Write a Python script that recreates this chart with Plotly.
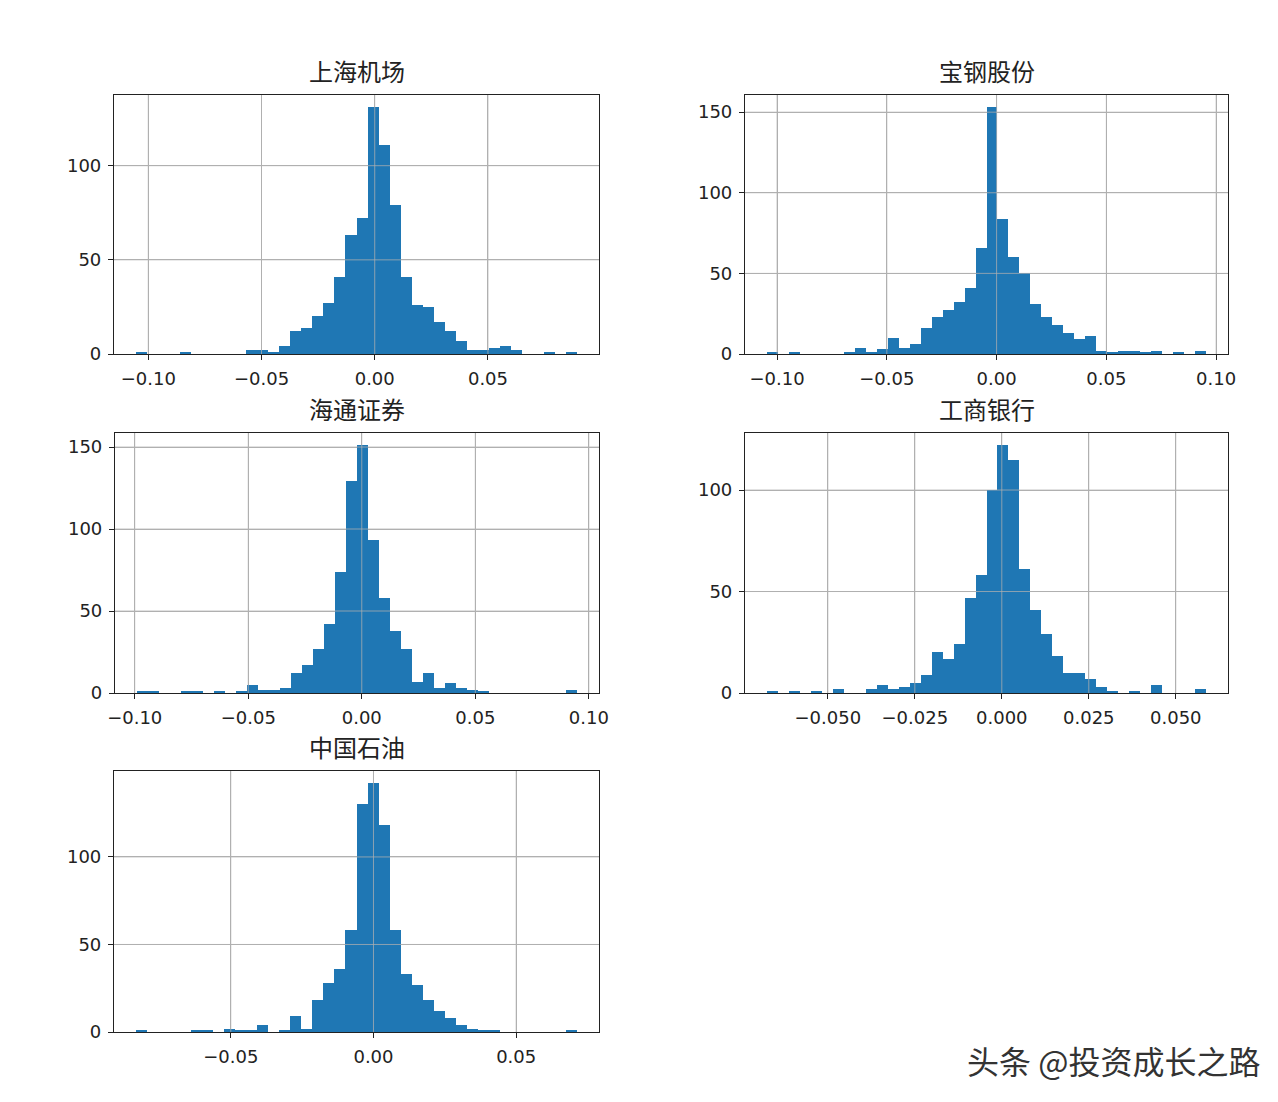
import plotly.graph_objects as go

# ---------------- data ----------------
names = ["上海机场", "宝钢股份", "海通证券", "工商银行", "中国石油"]

# histogram range (min, max of the returns) for each stock, 40 bins each
data_min = [-0.1054, -0.1046, -0.0990, -0.0675, -0.0832]
data_max = [0.0893, 0.0954, 0.0948, 0.0587, 0.0713]

counts_shjc = [1, 0, 0, 0, 1, 0, 0, 0, 0, 0, 2, 2, 1, 4, 12, 14, 20, 27, 41, 63,
               72, 131, 111, 79, 41, 26, 25, 17, 12, 7, 2, 2, 3, 4, 2, 0, 0, 1, 0, 1]
counts_bggf = [1, 0, 1, 0, 0, 0, 0, 1, 4, 1, 3, 10, 4, 6, 16, 23, 27, 32, 41, 66,
               153, 84, 60, 50, 31, 23, 18, 13, 9, 11, 2, 1, 2, 2, 1, 2, 0, 1, 0, 2]
counts_htzq = [1, 1, 0, 0, 1, 1, 0, 1, 0, 1, 5, 2, 2, 3, 12, 17, 27, 42, 74, 129,
               151, 93, 58, 38, 27, 7, 12, 3, 6, 3, 2, 1, 0, 0, 0, 0, 0, 0, 0, 2]
counts_gsyh = [1, 0, 1, 0, 1, 0, 2, 0, 0, 2, 4, 2, 3, 5, 9, 20, 17, 24, 47, 58,
               100, 122, 115, 61, 41, 29, 18, 10, 10, 7, 3, 1, 0, 1, 0, 4, 0, 0, 0, 2]
counts_zgsy = [1, 0, 0, 0, 0, 1, 1, 0, 2, 1, 1, 4, 0, 1, 9, 2, 18, 28, 36, 58,
               130, 142, 118, 58, 33, 27, 18, 12, 8, 4, 2, 1, 1, 0, 0, 0, 0, 0, 0, 1]
all_counts = [counts_shjc, counts_bggf, counts_htzq, counts_gsyh, counts_zgsy]

xtick_vals = [
    [-0.10, -0.05, 0.00, 0.05],
    [-0.10, -0.05, 0.00, 0.05, 0.10],
    [-0.10, -0.05, 0.00, 0.05, 0.10],
    [-0.050, -0.025, 0.000, 0.025, 0.050],
    [-0.05, 0.00, 0.05],
]
xtick_text = [
    ["−0.10", "−0.05", "0.00", "0.05"],
    ["−0.10", "−0.05", "0.00", "0.05", "0.10"],
    ["−0.10", "−0.05", "0.00", "0.05", "0.10"],
    ["−0.050", "−0.025", "0.000", "0.025", "0.050"],
    ["−0.05", "0.00", "0.05"],
]
ytick_vals = [
    [0, 50, 100],
    [0, 50, 100, 150],
    [0, 50, 100, 150],
    [0, 50, 100],
    [0, 50, 100],
]
watermark = "头条 @投资成长之路"

# ---------------- layout geometry (pixels in the 1278x1102 page) ----------------
W, H = 1278, 1102
OFF = 8  # the page body margin shifts the figure by this many pixels
boxes = [(114, 599, 95, 354), (745, 1228, 95, 354), (115, 599, 433, 693),
         (745, 1228, 433, 693), (114, 599, 771, 1032)]

BAR = "#1f77b4"
GRID = "#b0b0b0"
INK = "#222222"
tickfont = dict(family="DejaVu Sans, Liberation Sans, sans-serif", size=18, color=INK)

fig = go.Figure()
layout_axes = {}
shapes = []
annotations = []

for i, (name, mn, mx, counts) in enumerate(zip(names, data_min, data_max, all_counts)):
    n = len(counts)
    bw = (mx - mn) / n
    centers = [mn + bw * (k + 0.5) for k in range(n)]
    ax = "" if i == 0 else str(i + 1)
    fig.add_trace(go.Bar(
        x=centers, y=counts, width=bw,
        marker=dict(color=BAR, line=dict(width=0)),
        xaxis="x" + ax, yaxis="y" + ax, showlegend=False,
        hovertemplate="%{x:.4f}: %{y}<extra>" + name + "</extra>",
    ))
    l, r, t, b = [c - OFF for c in boxes[i]]
    span = mx - mn
    xr = [mn - 0.05 * span, mx + 0.05 * span]
    yr = [0, max(counts) * 1.05]
    common = dict(
        showgrid=True, gridcolor=GRID, gridwidth=1,
        showline=True, linecolor=INK, linewidth=1.2, mirror=True,
        ticks="outside", ticklen=5, tickcolor=INK, tickwidth=1,
        tickfont=tickfont, zeroline=False, automargin=False,
        ticklabelstandoff=3,
    )
    layout_axes["xaxis" + ax] = dict(
        domain=[l / W, r / W], anchor="y" + ax, range=xr,
        tickmode="array", tickvals=xtick_vals[i], ticktext=xtick_text[i], **common)
    layout_axes["yaxis" + ax] = dict(
        domain=[1 - b / H, 1 - t / H], anchor="x" + ax, range=yr,
        tickmode="array", tickvals=ytick_vals[i], **common)

    # matplotlib draws the grid over the bars: re-draw grid lines above the bars
    for v in xtick_vals[i]:
        if xr[0] < v < xr[1]:
            shapes.append(dict(type="line", xref="x" + ax, yref="y" + ax + " domain",
                               x0=v, x1=v, y0=0, y1=1, layer="above",
                               line=dict(color=GRID, width=1), opacity=0.75))
    for v in ytick_vals[i]:
        if yr[0] < v < yr[1]:
            shapes.append(dict(type="line", xref="x" + ax + " domain", yref="y" + ax,
                               x0=0, x1=1, y0=v, y1=v, layer="above",
                               line=dict(color=GRID, width=1), opacity=0.75))

    annotations.append(dict(
        text=name, xref="x" + ax + " domain", yref="y" + ax + " domain",
        x=0.5, y=1, xanchor="center", yanchor="bottom", yshift=5, showarrow=False,
        font=dict(family="Noto Sans CJK SC, sans-serif", size=24, color=INK)))

annotations.append(dict(
    text=watermark, xref="paper", yref="paper", x=(1262 - OFF) / W, y=1 - (1060 - OFF) / H,
    xanchor="right", yanchor="middle", showarrow=False,
    font=dict(family="Noto Sans CJK SC, sans-serif", size=32, color="#333333")))

fig.update_layout(
    width=W, height=H,
    margin=dict(l=0, r=0, t=0, b=0),
    paper_bgcolor="white", plot_bgcolor="white",
    bargap=0, barmode="overlay",
    shapes=shapes, annotations=annotations,
    **layout_axes,
)

fig.write_html("out.html")
